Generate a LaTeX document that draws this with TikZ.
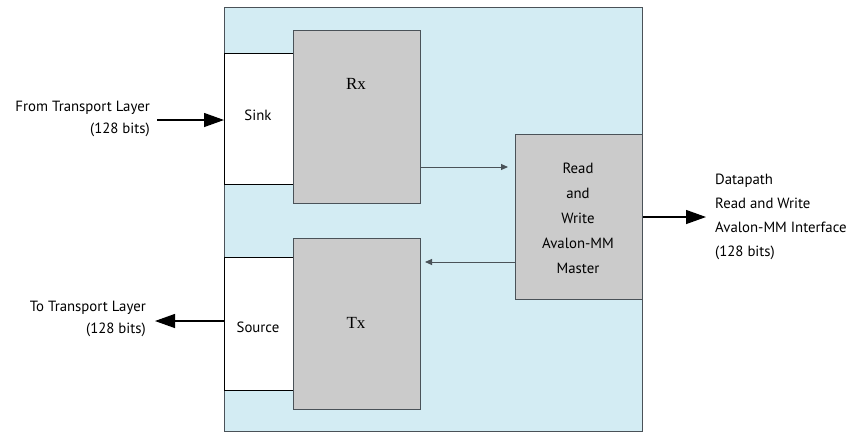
\documentclass[tikz,border=0pt]{standalone}
\usepackage{fontspec}
\setmainfont{PT Sans}
\newfontfamily\serifrx{Liberation Serif}
\usetikzlibrary{arrows.meta}
\definecolor{bgblue}{HTML}{D3ECF3}
\definecolor{boxgray}{HTML}{CBCBCB}
\definecolor{edgegray}{HTML}{4A5258}
\tikzset{
  lbl/.style={font=\fontsize{14.8}{17}\selectfont, inner sep=0pt},
  portbox/.style={draw=black, line width=0.9pt, fill=white},
  blockbox/.style={draw=edgegray, line width=1.2pt, fill=boxgray},
  bigarrow/.style={line width=1.3pt, -{Triangle[length=20pt,width=14pt]}},
  smallarrow/.style={draw=edgegray, line width=1pt, -{Triangle[length=7pt,width=6pt]}},
}
\begin{document}
\begin{tikzpicture}[x=1pt,y=-1pt]
\useasboundingbox (0,0) rectangle (853,432);
% outer block
\node[draw=edgegray, line width=1pt, fill=bgblue, minimum width=418pt, minimum height=424pt, inner sep=0pt, anchor=north west] (outer) at (224,7) {};
% sink / source
\node[portbox, minimum width=69pt, minimum height=131pt, inner sep=0pt, anchor=north west] (sink) at (224,53) {};
\node[portbox, minimum width=69pt, minimum height=133pt, inner sep=0pt, anchor=north west] (source) at (224,257) {};
% Rx / Tx
\node[blockbox, minimum width=127pt, minimum height=173pt, inner sep=0pt, anchor=north west] (rx) at (293,30) {};
\node[blockbox, minimum width=127pt, minimum height=171pt, inner sep=0pt, anchor=north west] (tx) at (293,238) {};
% master
\node[blockbox, minimum width=127pt, minimum height=165pt, inner sep=0pt, anchor=north west] (master) at (515,134) {};
% labels inside
\node[lbl] (sinklbl) at (258,115) {Sink};
\node[lbl] (sourcelbl) at (258,327) {Source};
\node[lbl, font=\serifrx\fontsize{17}{19}\selectfont] (rxlbl) at (356,84) {Rx};
\node[lbl, font=\serifrx\fontsize{17}{19}\selectfont] (txlbl) at (356,323) {Tx};
\node[lbl, align=center, font=\fontsize{14.8}{25}\selectfont] (masterlbl) at (578,218) {Read\\and\\Write\\Avalon-MM\\Master};
% outside labels
\node[lbl, align=right, anchor=east, font=\fontsize{14.8}{22}\selectfont] (fromlbl) at (150,119) {From Transport Layer\\(128 bits)};
\node[lbl, align=right, anchor=east, font=\fontsize{14.8}{22}\selectfont] (tolbl) at (146,319) {To Transport Layer\\(128 bits)};
\node[lbl, align=left, anchor=west, font=\fontsize{14.8}{24}\selectfont] (dplbl) at (715,217) {Datapath\\Read and Write\\Avalon-MM Interface\\(128 bits)};
% connectors
\coordinate (fromstart) at (157,120);
\coordinate (toend) at (155,321);
\draw[bigarrow] (fromstart) -- (sink.west |- fromstart);
\draw[bigarrow] (source.west |- toend) -- (toend);
\coordinate (dpend) at (706,217);
\draw[bigarrow] (master.east |- dpend) -- (dpend);
\coordinate (rxout) at (421,167);
\coordinate (mstin) at (508,167);
\coordinate (mstout) at (515,262);
\coordinate (txin) at (425,262);
\draw[smallarrow] (rxout) -- (mstin);
\draw[smallarrow] (mstout) -- (txin);
\end{tikzpicture}
\end{document}
